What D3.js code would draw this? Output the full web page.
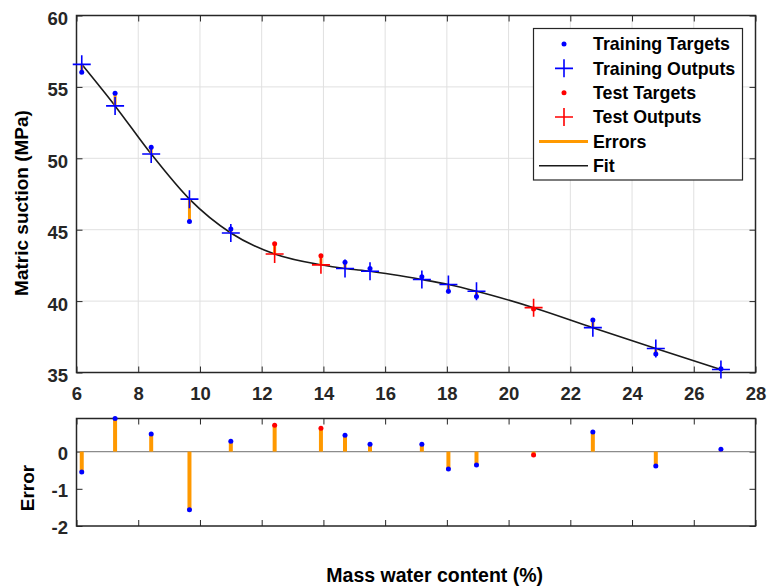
<!DOCTYPE html>
<html>
<head>
<meta charset="utf-8">
<script src="https://cdn.jsdelivr.net/npm/d3@7"></script>
<style>
    body { margin: 0; background: #fff; }
    svg { display: block; font-family: "Liberation Sans", Arial, sans-serif; font-weight: bold; }
</style>
</head>
<body>
<svg id="chart" width="768" height="586"></svg>
<script>

// mass water content (%) of each sample
const waterContent = [ 6.17, 7.25, 8.42, 9.66, 11.0, 12.42, 13.92, 14.70, 15.51, 17.19, 18.05, 18.96, 20.81, 22.73, 24.77, 26.88 ];
// measured matric suction (MPa)
const targets = [ 56.03, 54.56, 50.77, 45.58, 45.05, 44.01, 43.17, 42.72, 42.29, 41.71, 40.69, 40.33, 39.45, 38.67, 36.29, 35.27 ];
// network outputs (MPa)
const outputs = [ 56.58, 53.67, 50.30, 47.14, 44.77, 43.30, 42.54, 42.28, 42.09, 41.51, 41.16, 40.69, 39.54, 38.14, 36.68, 35.21 ];
// which set each sample belongs to
const sets = [ "train", "train", "train", "train", "train", "test", "test", "train", "train", "train", "train", "train", "test", "train", "train", "train" ];

const xTicks = [ 6, 8, 10, 12, 14, 16, 18, 20, 22, 24, 26, 28 ];
const yTicks = [ 35, 40, 45, 50, 55, 60 ];
const errTicks = [ -2, -1, 0 ];
const legendLabels = [ "Training Targets", "Training Outputs", "Test Targets", "Test Outputs", "Errors", "Fit" ];

const setColour = { train: "#0000ff", test: "#ff0000" };
const errColour = "#ff9900";
const axisColour = "#262626";

const items = waterContent.map( (x, i) => ({ x, target: targets[i], output: outputs[i], set: sets[i], err: targets[i] - outputs[i] }) );

const svg = d3.select("#chart");

const left = 76.5, right = 755.5;
const top1 = 15.5, bottom1 = 372.5;
const top2 = 418.5, bottom2 = 526;

const x = d3.scaleLinear().domain( [ 6, 28 ] ).range( [ left, right ] );
const y = d3.scaleLinear().domain( [ 35, 60 ] ).range( [ bottom1, top1 ] );
const yErr = d3.scaleLinear().domain( [ -2, d3.max( items, d => d.err ) ] ).range( [ bottom2, top2 ] );

function styleAxis(g) {
    g.select(".domain").remove();
    g.selectAll(".tick line").attr( "stroke", axisColour ).attr( "stroke-width", 1 );
    g.selectAll(".tick text")
        .attr( "fill", axisColour )
        .style( "font-size", "18.5px" )
        .style( "font-family", "Liberation Sans, Arial, sans-serif" )
        .style( "font-weight", "bold" );
}

function plusPath(cx, cy, r) {
    return `M${cx - r},${cy}H${cx + r}M${cx},${cy - r}V${cy + r}`;
}

// ---------- top panel: fit ----------
const fitPanel = svg.append("g");

// grid
fitPanel.append("g")
    .selectAll("line")
    .data( xTicks )
    .enter().append("line")
        .attr( "x1", d => x(d) ).attr( "x2", d => x(d) )
        .attr( "y1", top1 ).attr( "y2", bottom1 )
        .attr( "stroke", "#e0e0e0" ).attr( "stroke-width", 1 );
fitPanel.append("g")
    .selectAll("line")
    .data( yTicks )
    .enter().append("line")
        .attr( "x1", left ).attr( "x2", right )
        .attr( "y1", d => y(d) ).attr( "y2", d => y(d) )
        .attr( "stroke", "#e0e0e0" ).attr( "stroke-width", 1 );

// axes, ticks pointing inwards
const gxb = fitPanel.append("g")
    .attr( "transform", `translate(0,${bottom1})` )
    .call( d3.axisBottom(x).tickValues(xTicks).tickSizeInner(-6).tickSizeOuter(0).tickPadding(14.5) );
styleAxis(gxb);

const gxt = fitPanel.append("g")
    .attr( "transform", `translate(0,${top1})` )
    .call( d3.axisTop(x).tickValues(xTicks).tickSizeInner(-6).tickSizeOuter(0).tickFormat("") );
styleAxis(gxt);

const gyl = fitPanel.append("g")
    .attr( "transform", `translate(${left},0)` )
    .call( d3.axisLeft(y).tickValues(yTicks).tickSizeInner(-6).tickSizeOuter(0).tickPadding(8.5) );
styleAxis(gyl);
gyl.selectAll(".tick text").attr( "dy", null ).attr( "y", 9 );

const gyr = fitPanel.append("g")
    .attr( "transform", `translate(${right},0)` )
    .call( d3.axisRight(y).tickValues(yTicks).tickSizeInner(-6).tickSizeOuter(0).tickFormat("") );
styleAxis(gyr);

fitPanel.append("rect")
    .attr( "x", left ).attr( "y", top1 )
    .attr( "width", right - left ).attr( "height", bottom1 - top1 )
    .attr( "fill", "none" ).attr( "stroke", axisColour ).attr( "stroke-width", 1.5 );

// fit curve
const fitLine = d3.line()
    .x( d => x(d.x) )
    .y( d => y(d.output) )
    .curve( d3.curveMonotoneX );

fitPanel.append("path")
    .datum( items )
    .attr( "d", fitLine )
    .attr( "fill", "none" )
    .attr( "stroke", "#1a1a1a" )
    .attr( "stroke-width", 1.6 );

// errors
fitPanel.selectAll("line.err")
    .data( items )
    .enter().append("line")
        .attr( "class", "err" )
        .attr( "x1", d => x(d.x) ).attr( "x2", d => x(d.x) )
        .attr( "y1", d => y(d.target) ).attr( "y2", d => y(d.output) )
        .attr( "stroke", errColour ).attr( "stroke-width", 3 );

// targets
fitPanel.selectAll("circle.target")
    .data( items )
    .enter().append("circle")
        .attr( "class", "target" )
        .attr( "cx", d => x(d.x) ).attr( "cy", d => y(d.target) )
        .attr( "r", 2.5 )
        .attr( "fill", d => setColour[d.set] );

// outputs
fitPanel.selectAll("path.output")
    .data( items )
    .enter().append("path")
        .attr( "class", "output" )
        .attr( "d", d => plusPath( x(d.x), y(d.output), 9 ) )
        .attr( "stroke", d => setColour[d.set] )
        .attr( "stroke-width", 1.6 )
        .attr( "fill", "none" );

// legend
const legend = svg.append("g");
legend.append("rect")
    .attr( "x", 533.5 ).attr( "y", 28.5 )
    .attr( "width", 209 ).attr( "height", 151.5 )
    .attr( "fill", "#fff" ).attr( "stroke", axisColour ).attr( "stroke-width", 1.2 );

const rowY = i => 44 + i * 24.35;
legend.append("circle").attr( "cx", 564 ).attr( "cy", rowY(0) ).attr( "r", 2.5 ).attr( "fill", setColour.train );
legend.append("path").attr( "d", plusPath( 564, rowY(1), 9 ) ).attr( "stroke", setColour.train ).attr( "stroke-width", 1.6 );
legend.append("circle").attr( "cx", 564 ).attr( "cy", rowY(2) ).attr( "r", 2.5 ).attr( "fill", setColour.test );
legend.append("path").attr( "d", plusPath( 564, rowY(3), 9 ) ).attr( "stroke", setColour.test ).attr( "stroke-width", 1.6 );
legend.append("line").attr( "x1", 539 ).attr( "x2", 588 ).attr( "y1", rowY(4) ).attr( "y2", rowY(4) ).attr( "stroke", errColour ).attr( "stroke-width", 3 );
legend.append("line").attr( "x1", 539 ).attr( "x2", 588 ).attr( "y1", rowY(5) ).attr( "y2", rowY(5) ).attr( "stroke", "#1a1a1a" ).attr( "stroke-width", 1.6 );

legend.selectAll("text")
    .data( legendLabels )
    .enter().append("text")
        .attr( "x", 593 )
        .attr( "y", (d, i) => rowY(i) + 6.2 )
        .attr( "fill", "#000" )
        .style( "font-size", "17.8px" )
        .text( d => d );

// ---------- bottom panel: errors ----------
const errPanel = svg.append("g");

const gxb2 = errPanel.append("g")
    .attr( "transform", `translate(0,${bottom2})` )
    .call( d3.axisBottom(x).tickValues(xTicks).tickSizeInner(-6).tickSizeOuter(0).tickFormat("") );
styleAxis(gxb2);

const gxt2 = errPanel.append("g")
    .attr( "transform", `translate(0,${top2})` )
    .call( d3.axisTop(x).tickValues(xTicks).tickSizeInner(-6).tickSizeOuter(0).tickFormat("") );
styleAxis(gxt2);

const gyl2 = errPanel.append("g")
    .attr( "transform", `translate(${left},0)` )
    .call( d3.axisLeft(yErr).tickValues(errTicks).tickSizeInner(-6).tickSizeOuter(0).tickPadding(8.5).tickFormat( d => String(d) ) );
styleAxis(gyl2);
gyl2.selectAll(".tick text").attr( "dy", null ).attr( "y", 7.5 );

const gyr2 = errPanel.append("g")
    .attr( "transform", `translate(${right},0)` )
    .call( d3.axisRight(yErr).tickValues(errTicks).tickSizeInner(-6).tickSizeOuter(0).tickFormat("") );
styleAxis(gyr2);

// zero line
errPanel.append("line")
    .attr( "x1", left ).attr( "x2", right )
    .attr( "y1", yErr(0) ).attr( "y2", yErr(0) )
    .attr( "stroke", "#8c8c8c" ).attr( "stroke-width", 1.2 );

errPanel.append("rect")
    .attr( "x", left ).attr( "y", top2 )
    .attr( "width", right - left ).attr( "height", bottom2 - top2 )
    .attr( "fill", "none" ).attr( "stroke", axisColour ).attr( "stroke-width", 1.5 );

errPanel.selectAll("line.err")
    .data( items )
    .enter().append("line")
        .attr( "class", "err" )
        .attr( "x1", d => x(d.x) ).attr( "x2", d => x(d.x) )
        .attr( "y1", yErr(0) ).attr( "y2", d => yErr(d.err) )
        .attr( "stroke", errColour ).attr( "stroke-width", 4 );

errPanel.selectAll("circle.err")
    .data( items )
    .enter().append("circle")
        .attr( "class", "err" )
        .attr( "cx", d => x(d.x) ).attr( "cy", d => yErr(d.err) )
        .attr( "r", 2.5 )
        .attr( "fill", d => setColour[d.set] );

// ---------- labels ----------
svg.append("text")
    .attr( "transform", "translate(28,203) rotate(-90)" )
    .attr( "text-anchor", "middle" )
    .attr( "fill", "#000" )
    .style( "font-size", "19px" )
    .text( "Matric suction (MPa)" );

svg.append("text")
    .attr( "transform", "translate(34,488) rotate(-90)" )
    .attr( "text-anchor", "middle" )
    .attr( "fill", "#000" )
    .style( "font-size", "19px" )
    .text( "Error" );

svg.append("text")
    .attr( "x", 434.7 )
    .attr( "y", 581.5 )
    .attr( "text-anchor", "middle" )
    .attr( "fill", "#000" )
    .style( "font-size", "19.5px" )
    .text( "Mass water content (%)" );

</script>
</body>
</html>
